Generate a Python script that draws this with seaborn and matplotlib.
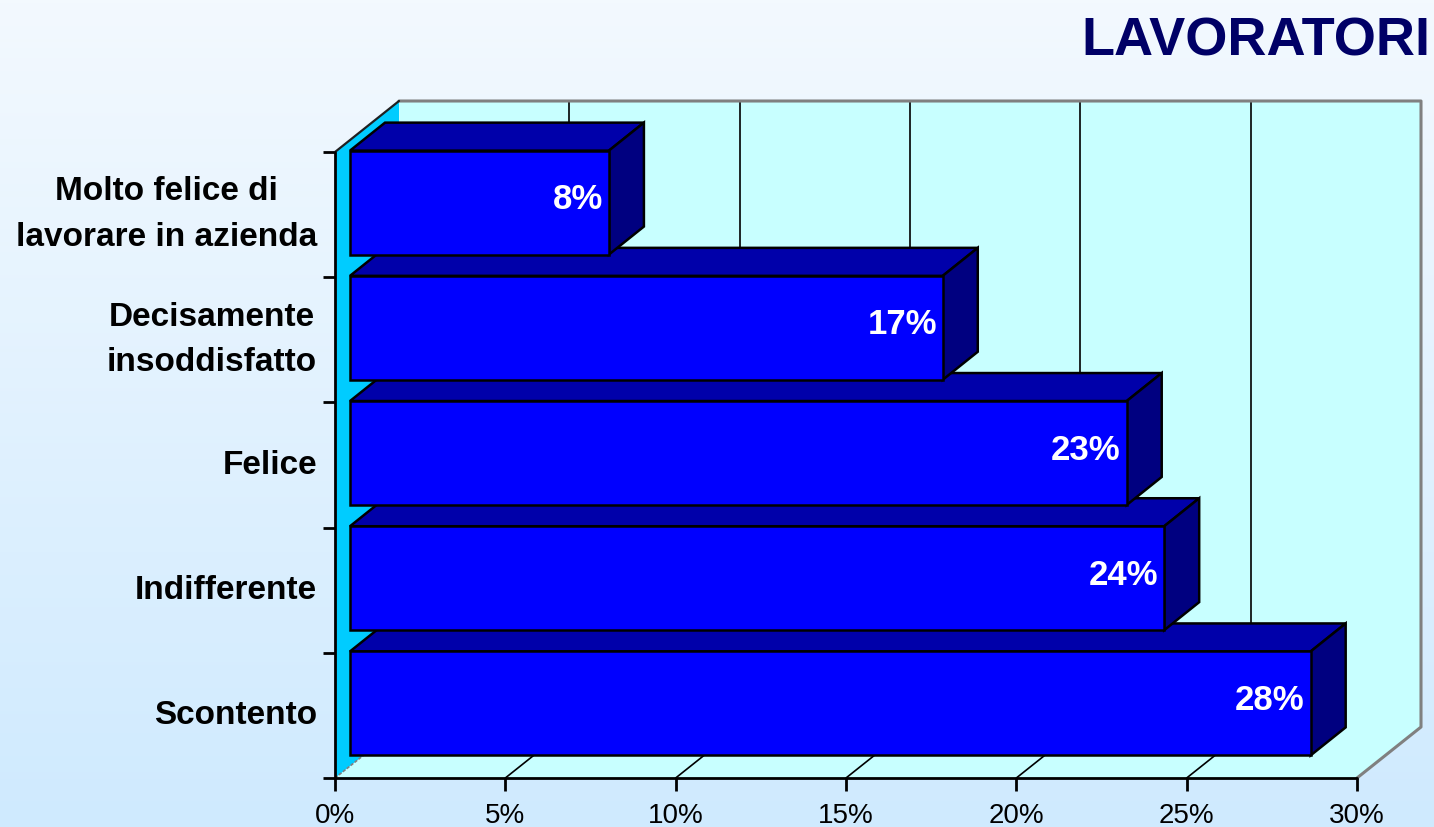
import numpy as np
import matplotlib
matplotlib.use("Agg")
import matplotlib.pyplot as plt
import seaborn as sns
from matplotlib.patches import Polygon

# ---------------- data ----------------
categories = ["Molto felice di\nlavorare in azienda",
              "Decisamente\ninsoddisfatto",
              "Felice",
              "Indifferente",
              "Scontento"]
values = [7.6, 17.4, 22.8, 23.9, 28.2]
value_labels = ["8%", "17%", "23%", "24%", "28%"]
xticks = [0, 5, 10, 15, 20, 25, 30]
xtick_labels = ["0%", "5%", "10%", "15%", "20%", "25%", "30%"]
title = "LAVORATORI"

sns.set_theme(style="white")
plt.rcParams['font.family'] = ['Liberation Sans', 'DejaVu Sans']

W, H = 1434, 827
fig = plt.figure(figsize=(W / 100, H / 100), dpi=100)

# background gradient
bg = fig.add_axes([0, 0, 1, 1], zorder=-10)
grad = np.linspace(0, 1, 256)[:, None]
top_c = np.array([0xF3, 0xF9, 0xFE]) / 255
bot_c = np.array([0xCF, 0xEA, 0xFE]) / 255
img = top_c[None, None, :] * (1 - grad[..., None]) + bot_c[None, None, :] * grad[..., None]
bg.imshow(np.repeat(img, 2, axis=1), aspect='auto', extent=[0, 1, 0, 1])
bg.axis('off')

# front plane axes (pixels)
L, R, T, B = 335, 1357, 152, 778
ax = fig.add_axes([L / W, 1 - B / H, (R - L) / W, (B - T) / H])
ax.set_xlim(0, 30)
ax.set_ylim(4.5, -0.5)
ax.patch.set_alpha(0)
for s in ax.spines.values():
    s.set_visible(False)

fx = (R - L) / 30.0
fy = (B - T) / 5.0


def off(dx_px, dy_up_px):
    return dx_px / fx, -dy_up_px / fy


BF = off(15, 12)    # bar front face
BB = off(50, 40)    # bar back face
BK = off(64, 51)    # back wall plane

y0, y1 = -0.5, 4.5


def P(x, y, o):
    return (x + o[0], y + o[1])


F0 = (0, 0)
# back wall
ax.add_patch(Polygon([P(0, y0, BK), P(30, y0, BK), P(30, y1, BK), P(0, y1, BK)],
                     closed=True, facecolor="#C8FFFF", edgecolor="none", zorder=1, clip_on=False))
# floor
ax.add_patch(Polygon([P(0, y1, F0), P(30, y1, F0), P(30, y1, BK), P(0, y1, BK)],
                     closed=True, facecolor="#C8FFFF", edgecolor="none", zorder=1, clip_on=False))
# back wall grid lines & floor grid lines
for t in xticks[1:-1]:
    ax.plot([P(t, y0, BK)[0], P(t, y1, BK)[0]], [P(t, y0, BK)[1], P(t, y1, BK)[1]],
            color="black", lw=1.2, zorder=1.5, clip_on=False)
    ax.plot([P(t, y1, F0)[0], P(t, y1, BK)[0]], [P(t, y1, F0)[1], P(t, y1, BK)[1]],
            color="black", lw=1.2, zorder=1.5, clip_on=False)
# outline of back wall / floor (gray)
pts = [P(0, y0, BK), P(30, y0, BK), P(30, y1, BK), P(30, y1, F0)]
ax.plot([p[0] for p in pts], [p[1] for p in pts], color="#808080", lw=2.2,
        zorder=1.6, clip_on=False)
# left wall
ax.add_patch(Polygon([P(0, y0, F0), P(0, y0, BK), P(0, y1, BK), P(0, y1, F0)],
                     closed=True, facecolor="#00CCFF", edgecolor="none", zorder=2, clip_on=False))
ax.plot([P(0, y0, F0)[0], P(0, y0, BK)[0]], [P(0, y0, F0)[1], P(0, y0, BK)[1]],
        color="#202020", lw=1.6, zorder=2.1, clip_on=False)
ax.plot([P(0, y1, F0)[0], P(0, y1, BK)[0]], [P(0, y1, F0)[1], P(0, y1, BK)[1]],
        color="#808080", lw=1.2, ls=(0, (2, 1)), zorder=2.1, clip_on=False)

# bars (front faces via seaborn)
sns.barplot(x=values, y=categories, orient="h", color="#0000FF", width=0.83,
            saturation=1, edgecolor="black", linewidth=1.8, ax=ax, zorder=3)

patches = list(ax.patches)[-len(values):]
patches = sorted([p for p in patches if p.get_width() > 0], key=lambda p: p.get_y())
n = len(patches)
for i, p in enumerate(patches):
    z = 10 + (n - i) * 3
    x0, w = p.get_x(), p.get_width()
    yt, h = p.get_y(), p.get_height()
    x1, yb = x0 + w, yt + h
    # move front face to bar-front depth
    p.set_xy((x0 + BF[0], yt + BF[1]))
    p.set_zorder(z + 2)
    p.set_clip_on(False)
    # top face
    ax.add_patch(Polygon([P(x0, yt, BF), P(x1, yt, BF), P(x1, yt, BB), P(x0, yt, BB)],
                         closed=True, facecolor="#0000AA", edgecolor="black", lw=1.8,
                         zorder=z, clip_on=False, joinstyle="miter"))
    # side face
    ax.add_patch(Polygon([P(x1, yt, BF), P(x1, yt, BB), P(x1, yb, BB), P(x1, yb, BF)],
                         closed=True, facecolor="#000080", edgecolor="black", lw=1.8,
                         zorder=z + 1, clip_on=False, joinstyle="miter"))
    # value label
    lx = x1 + BF[0] - 6 / fx
    ly = (yt + yb) / 2 + BF[1] - 3 / fy
    ax.text(lx, ly, value_labels[i], ha="right", va="center", color="white",
            fontsize=25, fontweight="bold", zorder=z + 2.5)

# axes lines and ticks
ax.plot([0, 0], [y0, y1], color="black", lw=2, zorder=40, clip_on=False)
ax.plot([0, 30], [y1, y1], color="black", lw=2, zorder=40, clip_on=False)
ax.set_xticks(xticks)
ax.set_xticklabels(xtick_labels, fontsize=20, color="black")
ax.set_yticks([-0.5, 0.5, 1.5, 2.5, 3.5, 4.5])
ax.set_yticklabels([])
ax.tick_params(axis="x", length=9, width=2, color="black", labelcolor="black",
               direction="out", pad=9, bottom=True)
ax.tick_params(axis="y", length=9, width=2, color="black", direction="out", left=True)
ax.set_xlabel("")
ax.set_ylabel("")
ax.grid(False)

# category labels
for i, c in enumerate(categories):
    ax.text(-18 / fx, i, c, ha="right", va="center", multialignment="center",
            fontsize=24, fontweight="bold", color="black", linespacing=1.6)

# title
fig.text(1430 / W, 1 - 55 / H, title, ha="right", va="baseline", fontsize=39,
         fontweight="bold", color="#000066")

fig.savefig("out.png", dpi=100)
